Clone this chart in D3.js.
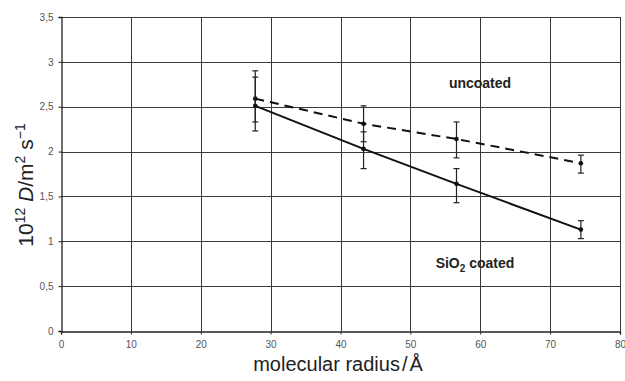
<head>
    <meta charset="utf-8">
    <style> body { margin: 0; background: #fff; } </style>
    <script src="https://cdn.jsdelivr.net/npm/d3@7"></script>
</head>
<body>
    <div id="chart"></div>
    <script>

        // molecular radius (Å)
        var radius = [27.8, 43.3, 56.6, 74.4];

        // uncoated (dashed)
        var uncoated = [2.59, 2.31, 2.14, 1.87];
        var uncoatedHi = [2.90, 2.51, 2.33, 1.96];
        var uncoatedLo = [2.23, 2.11, 1.93, 1.76];

        // SiO2 coated (solid)
        var coated = [2.51, 2.03, 1.64, 1.13];
        var coatedHi = [2.83, 2.22, 1.81, 1.23];
        var coatedLo = [2.33, 1.81, 1.43, 1.03];

        var xTicks = [0, 10, 20, 30, 40, 50, 60, 70, 80];
        var yTicks = [0, 0.5, 1, 1.5, 2, 2.5, 3, 3.5];

        var W = 625, H = 381;

        var svg = d3.select("#chart").append("svg")
            .attr("width", W)
            .attr("height", H)
            .style("font-family", "Liberation Sans, Arial, sans-serif");

        var x = d3.scaleLinear().domain([0, 80]).range([61, 620]);
        var y = d3.scaleLinear().domain([0, 3.5]).range([331, 17]);

        var fmt = function(d) { return String(d).replace(".", ","); };

        // grid
        var grid = svg.append("g").attr("stroke", "#3a3a3a").attr("stroke-width", 1);
        grid.selectAll(".gx").data(xTicks.slice(1)).enter().append("line")
            .attr("x1", d => Math.round(x(d)) + 0.5).attr("x2", d => Math.round(x(d)) + 0.5)
            .attr("y1", y(3.5)).attr("y2", y(0));
        grid.selectAll(".gy").data(yTicks.slice(1)).enter().append("line")
            .attr("y1", d => Math.round(y(d)) + 0.5).attr("y2", d => Math.round(y(d)) + 0.5)
            .attr("x1", x(0)).attr("x2", x(80));

        // axes
        var xAxis = svg.append("g")
            .attr("transform", "translate(0," + (Math.round(y(0)) + 0.5) + ")")
            .call(d3.axisBottom(x).tickValues(xTicks).tickSize(3).tickPadding(6).tickFormat(fmt));
        var yAxis = svg.append("g")
            .attr("transform", "translate(" + (Math.round(x(0)) + 0.5) + ",0)")
            .call(d3.axisLeft(y).tickValues(yTicks).tickSize(3).tickPadding(5).tickFormat(fmt));
        [xAxis, yAxis].forEach(function(a) {
            a.select(".domain").attr("stroke", "#222").attr("stroke-width", 1.3);
            a.selectAll(".tick line").attr("stroke", "#222");
            a.selectAll(".tick text").attr("fill", "#555").style("font-size", "10px")
                .style("font-family", "Liberation Sans, Arial, sans-serif");
        });

        // series
        function series(vals, hi, lo, dash) {
            var pts = radius.map((r, i) => ({ r: r, v: vals[i], hi: hi[i], lo: lo[i] }));
            var g = svg.append("g");
            g.append("path")
                .datum(pts)
                .attr("fill", "none")
                .attr("stroke", "#111")
                .attr("stroke-width", 2)
                .attr("stroke-dasharray", dash ? "9,6" : null)
                .attr("d", d3.line().x(d => x(d.r)).y(d => y(d.v)));
            var eb = g.selectAll(".eb").data(pts).enter().append("g").attr("stroke", "#222").attr("stroke-width", 1.2);
            eb.append("line").attr("x1", d => x(d.r)).attr("x2", d => x(d.r))
                .attr("y1", d => y(d.hi)).attr("y2", d => y(d.lo));
            eb.append("line").attr("x1", d => x(d.r) - 3).attr("x2", d => x(d.r) + 3)
                .attr("y1", d => y(d.hi)).attr("y2", d => y(d.hi));
            eb.append("line").attr("x1", d => x(d.r) - 3).attr("x2", d => x(d.r) + 3)
                .attr("y1", d => y(d.lo)).attr("y2", d => y(d.lo));
            g.selectAll("circle").data(pts).enter().append("circle")
                .attr("cx", d => x(d.r)).attr("cy", d => y(d.v)).attr("r", 2.3)
                .attr("fill", "#111");
        }
        series(uncoated, uncoatedHi, uncoatedLo, true);
        series(coated, coatedHi, coatedLo, false);

        // labels
        svg.append("text")
            .attr("x", 480).attr("y", 88)
            .attr("text-anchor", "middle")
            .style("font-size", "14px").style("font-weight", "bold").attr("fill", "#222")
            .text("uncoated");

        var sio = svg.append("text")
            .attr("x", 475).attr("y", 268)
            .attr("text-anchor", "middle")
            .style("font-size", "14px").style("font-weight", "bold").attr("fill", "#222");
        sio.append("tspan").text("SiO");
        sio.append("tspan").attr("dy", 4).style("font-size", "10px").text("2");
        sio.append("tspan").attr("dy", -4).text(" coated");

        // axis titles
        var xt = svg.append("text")
            .attr("x", 338).attr("y", 371)
            .attr("text-anchor", "middle")
            .style("font-size", "20px").attr("fill", "#222");
        xt.append("tspan").text("molecular radius");
        xt.append("tspan").attr("dx", 2).text("/");
        xt.append("tspan").attr("dx", 2).text("Å");

        var yt = svg.append("text")
            .attr("transform", "translate(33,185) rotate(-90)")
            .attr("text-anchor", "middle")
            .style("font-size", "21px").attr("fill", "#222");
        yt.append("tspan").text("10");
        yt.append("tspan").attr("dy", -8).style("font-size", "14px").text("12");
        yt.append("tspan").attr("dy", 8).text(" ");
        yt.append("tspan").style("font-style", "italic").text("D");
        yt.append("tspan").text("/m");
        yt.append("tspan").attr("dy", -8).style("font-size", "14px").text("2");
        yt.append("tspan").attr("dy", 8).text(" s");
        yt.append("tspan").attr("dy", -8).style("font-size", "14px").text("−1");

    </script>
</body>
